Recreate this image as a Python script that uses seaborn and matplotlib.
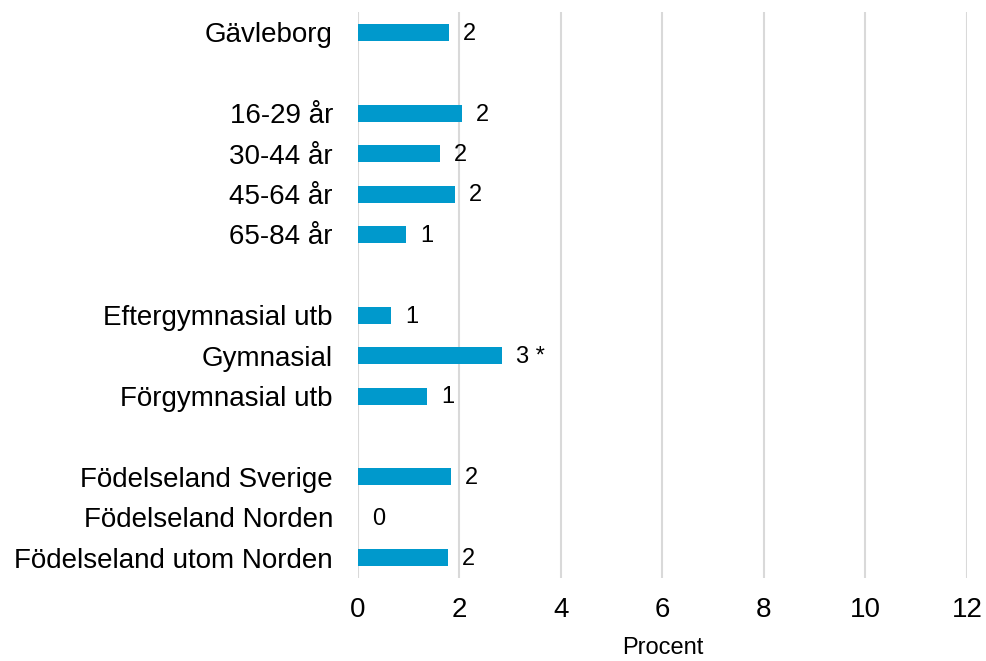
import seaborn as sns
import matplotlib.pyplot as plt
import pandas as pd
import numpy as np

# --- Data (blank strings are spacer rows) ---
categories = ["Gävleborg", " ",
              "16-29 år", "30-44 år", "45-64 år", "65-84 år", "  ",
              "Eftergymnasial utb", "Gymnasial", "Förgymnasial utb", "   ",
              "Födelseland Sverige", "Födelseland Norden", "Födelseland utom Norden"]
values = [1.79, np.nan,
          2.05, 1.62, 1.91, 0.95, np.nan,
          0.65, 2.84, 1.36, np.nan,
          1.83, 0.0, 1.77]
value_labels = ["2", "",
                "2", "2", "2", "1", "",
                "1", "3 *", "1", "",
                "2", "0", "2"]
x_ticks = [0, 2, 4, 6, 8, 10, 12]

df = pd.DataFrame({"category": categories, "percent": values})

sns.set_style("white")
plt.rcParams["font.family"] = ["Liberation Sans", "DejaVu Sans"]
plt.rcParams["text.color"] = "black"
plt.rcParams["xtick.color"] = "black"
plt.rcParams["ytick.color"] = "black"
plt.rcParams["axes.labelcolor"] = "black"

fig = plt.figure(figsize=(9.87, 6.61), dpi=100)
ax = fig.add_axes([0.3627, 0.1256, 0.617, 0.856])

sns.barplot(data=df, y="category", x="percent", order=categories,
            color="#0099cc", saturation=1, width=0.42, orient="h",
            linewidth=0, ax=ax)

# value labels just past the bar ends
for i, (v, lab) in enumerate(zip(values, value_labels)):
    if lab:
        ax.annotate(lab, xy=(0 if np.isnan(v) else v, i), xytext=(10, -1),
                    textcoords="offset points", ha="left", va="center",
                    fontsize=17, color="black")

ax.set_xlim(0, 12)
ax.set_ylim(len(categories) - 0.5, -0.5)
ax.set_xticks(x_ticks)
ax.set_xticklabels([str(t) for t in x_ticks])
ax.xaxis.grid(True, color="#d9d9d9", linewidth=1.5)
ax.set_axisbelow(True)
for s in ax.spines.values():
    s.set_visible(False)
ax.tick_params(axis="both", length=0, labelsize=20)
ax.tick_params(axis="y", pad=18)
ax.tick_params(axis="x", pad=14)
ax.set_ylabel("")
ax.set_xlabel("Procent", fontsize=17, labelpad=10)

fig.savefig("out.png", dpi=100)
